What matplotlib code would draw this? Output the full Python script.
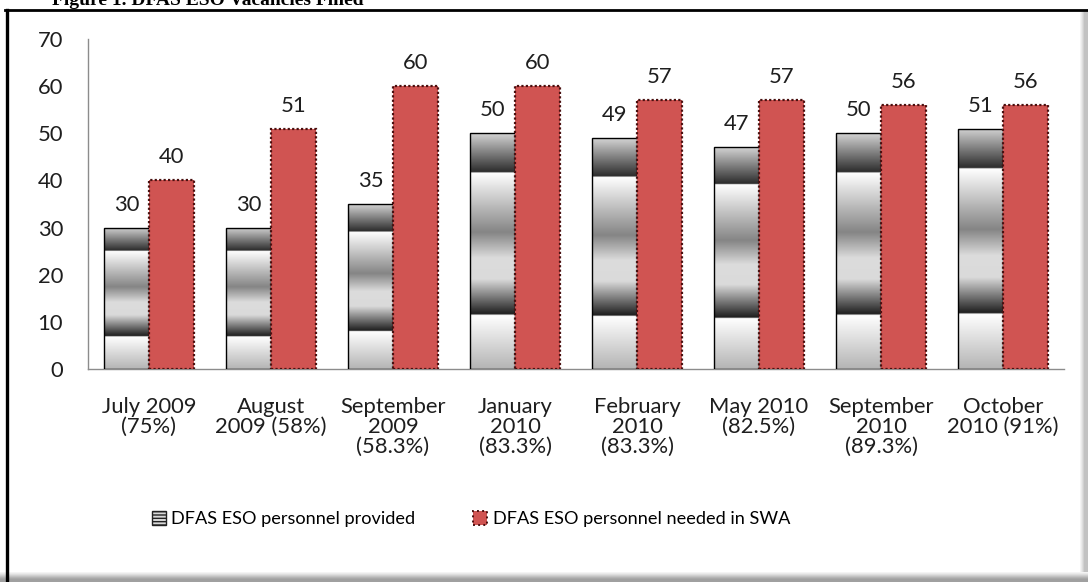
import numpy as np
import matplotlib.pyplot as plt
from matplotlib.colors import LinearSegmentedColormap
from matplotlib.patches import Patch, Rectangle

#%% Data
categories = ["July 2009\n(75%)", "August\n2009 (58%)", "September\n2009\n(58.3%)",
              "January\n2010\n(83.3%)", "February\n2010\n(83.3%)", "May 2010\n(82.5%)",
              "September\n2010\n(89.3%)", "October\n2010 (91%)"]
provided = [30, 30, 35, 50, 49, 47, 50, 51]
needed   = [40, 51, 60, 60, 57, 57, 56, 56]
yticks   = [0, 10, 20, 30, 40, 50, 60, 70]

#%% Style
font      = 'Lato'
fs        = 15.8          # axis / value labels
fs_leg    = 13.1          # legend
red       = '#d05452'
red_edge  = '#4a1010'
txt_col   = '#1e1e1e'
bar_w     = 0.37

# chrome-like gradient, bottom (0) to top (1)
chrome = LinearSegmentedColormap.from_list('chrome', [
    (0.000, '#b4b4b4'),
    (0.228, '#ffffff'),
    (0.232, '#1e1e1e'),
    (0.380, '#dadada'),
    (0.470, '#dcdcdc'),
    (0.580, '#858585'),
    (0.832, '#ffffff'),
    (0.836, '#2c2c2c'),
    (1.000, '#d4d4d4'),
], N=1024)

fig = plt.figure(figsize=(10.88, 5.82), dpi=100)
ax  = fig.add_axes([88/1088, 1-369/582, (1064-88)/1088, (369-39)/582])

x = np.arange(len(categories))

# gray bars with gradient image clipped to each bar
grad = np.linspace(0, 1, 512).reshape(-1, 1)
grad = np.repeat(grad, 8, axis=1)
bars_p = ax.bar(x - bar_w/2, provided, width=bar_w, facecolor='none',
                edgecolor='black', linewidth=1.0, zorder=3)
for b in bars_p:
    x0, w, h = b.get_x(), b.get_width(), b.get_height()
    im = ax.imshow(grad, cmap=chrome, origin='lower', aspect='auto',
                   extent=[x0, x0 + w, 0, h], zorder=2, interpolation='bilinear')
    im.set_clip_path(b)

bars_n = ax.bar(x + bar_w/2, needed, width=bar_w, color=red,
                edgecolor=red_edge, linewidth=1.6, linestyle=(0, (1, 1)), zorder=3)

for b, v in zip(list(bars_p) + list(bars_n), provided + needed):
    ax.annotate(str(v), (b.get_x() + b.get_width()/2, v), xytext=(0, 23),
                textcoords='offset pixels', ha='center', va='center',
                fontsize=fs, family=font, color=txt_col)

ax.set_xlim(-0.5, len(categories) - 0.5)
ax.set_ylim(0, 70)
ax.set_yticks(yticks)
ax.set_xticks(x)
ax.set_xticklabels(categories, fontsize=fs, family=font, linespacing=1.0, color=txt_col)
ax.set_yticklabels([str(t) for t in yticks], fontsize=fs, family=font, color=txt_col)
ax.tick_params(axis='both', length=0)
ax.tick_params(axis='x', pad=20)
ax.tick_params(axis='y', pad=18)
for s in ['top', 'right']:
    ax.spines[s].set_visible(False)
for s in ['left', 'bottom']:
    ax.spines[s].set_color('#8c8c8c')
    ax.spines[s].set_linewidth(1.0)

# legend
handles = [Patch(facecolor='#d8d8d8', edgecolor='#222222', hatch='-----', linewidth=1.0,
                 label='DFAS ESO personnel provided'),
           Patch(facecolor=red, edgecolor=red_edge, linestyle=':', linewidth=1.4,
                 label='DFAS ESO personnel needed in SWA')]
fig.legend(handles=handles, loc='center', bbox_to_anchor=(471/1088, 1-519/582),
           ncol=2, frameon=False, prop={'family': font, 'size': fs_leg},
           handlelength=0.75, handleheight=0.85, handletextpad=0.3, columnspacing=3.2)

# frame and soft shadow (right and bottom)
shade = ['#f4f4f4', '#eaeaea', '#dedede', '#d0d0d0', '#c2c2c2', '#b4b4b4', '#a8a8a8', '#a0a0a0']
for k, c in enumerate(shade):
    fig.patches.append(Rectangle((0, 0), 1, (len(shade) - k + 2)/582, transform=fig.transFigure,
                                 facecolor=c, edgecolor='none', zorder=0))
for k, c in enumerate(shade[:5]):
    fig.patches.append(Rectangle((1-(8-k)/1088, 10/582), (8-k)/1088, 1-20/582,
                                 transform=fig.transFigure, facecolor=c, edgecolor='none', zorder=0))
fig.add_artist(plt.Line2D([6.5/1088, 6.5/1088], [0, 1-10/582], transform=fig.transFigure,
                          color='black', linewidth=2.4))
fig.add_artist(plt.Line2D([5/1088, 1], [1-10/582, 1-10/582], transform=fig.transFigure,
                          color='black', linewidth=2.0))

# title, cut off at the top of the page (as in the source)
fig.text(52/1088, 1-5/582, 'Figure 1. DFAS ESO Vacancies Filled', family='Liberation Serif',
         fontweight='bold', fontsize=14, ha='left', va='baseline')

fig.savefig('out.png', dpi=100)
